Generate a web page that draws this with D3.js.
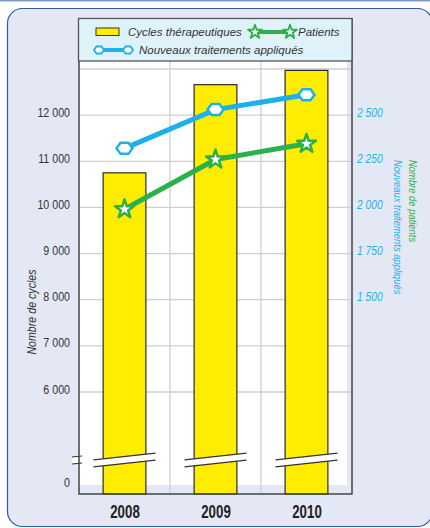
<!DOCTYPE html>
<html>
<head>
<meta charset="utf-8">
<script src="https://cdn.jsdelivr.net/npm/d3@7"></script>
<style>
  body { margin: 0; background: #fff; }
  svg text { font-family: "Liberation Sans Narrow", "Arial Narrow", "Liberation Sans", sans-serif; }
</style>
</head>
<body>
<div id="chart"></div>
<script>
// chart values
const years = ["2008", "2009", "2010"];
const cycles = [10750, 12660, 12970];
const patients = [1990, 2260, 2345];
const nouveaux = [2320, 2530, 2610];
const leftTicks = [0, 6000, 7000, 8000, 9000, 10000, 11000, 12000];
const rightTicks = [1500, 1750, 2000, 2250, 2500];

const width = 430, height = 528;
const blue = "#1cb1ea", green = "#2bb04a", yellow = "#ffed00";
const narrow = 0.82; // the print uses a condensed face

const fr = d3.formatLocale({decimal: ",", thousands: " ", grouping: [3], currency: ["", "€"]});
const fmt = fr.format(",d");

const svg = d3.select("#chart").append("svg")
    .attr("width", width)
    .attr("height", height);

// top rule + rounded panel
svg.append("rect").attr("x", 0).attr("y", 0).attr("width", width).attr("height", 1.5).attr("fill", "#7f9cc6");
svg.append("rect")
    .attr("x", 7.5).attr("y", 8.5)
    .attr("width", 425).attr("height", 518)
    .attr("rx", 15)
    .attr("fill", "#e4e8f4")
    .attr("stroke", "#2f5a9e")
    .attr("stroke-width", 1.2);

// plot frame
const plotL = 79, plotR = 352, axisY = 494, plotT = 61;

const x = d3.scaleBand().domain(years).range([plotL, plotR]).padding(0);
const barW = x.bandwidth() * 0.47;
const cx = d => x(d) + x.bandwidth() / 2;

// broken axis: 0 sits just above the frame, 6000..13000 linear
const yL = d3.scaleLinear().domain([0, 6000, 13000]).range([485, 392, 69]);
const yR = d3.scaleLinear().domain([1500, 2500]).range([yL(8000), yL(12000)]);

// white plotting area (inset a bit from right and bottom)
svg.append("rect")
    .attr("x", plotL).attr("y", plotT)
    .attr("width", 347 - plotL).attr("height", 485 - plotT)
    .attr("fill", "#fff");

// horizontal grid
const gridVals = d3.range(6000, 13001, 1000);
svg.append("g").selectAll("line")
    .data(gridVals)
    .join("line")
    .attr("x1", plotL).attr("x2", plotR)
    .attr("y1", d => yL(d)).attr("y2", d => yL(d))
    .attr("stroke", "#cfcfd4").attr("stroke-width", 1.3);

// vertical grid between years
svg.append("g").selectAll("line")
    .data(years.slice(1))
    .join("line")
    .attr("x1", d => x(d)).attr("x2", d => x(d))
    .attr("y1", plotT).attr("y2", axisY)
    .attr("stroke", "#cfcfd4").attr("stroke-width", 1.3);

// bars
svg.append("g").selectAll("rect")
    .data(years)
    .join("rect")
    .attr("x", d => cx(d) - barW / 2)
    .attr("y", (d, i) => yL(cycles[i]))
    .attr("width", barW)
    .attr("height", (d, i) => axisY - yL(cycles[i]))
    .attr("fill", yellow)
    .attr("stroke", "#2b2b2b")
    .attr("stroke-width", 1.2);

// break marks across each bar and the left axis
const brk = svg.append("g");
function breakMark(xc, half) {
  const yc = 460, dy = half * 0.108, gap = 3.5;
  brk.append("path")
      .attr("d", `M${xc - half},${yc + dy - gap}L${xc + half},${yc - dy - gap}L${xc + half},${yc - dy + gap}L${xc - half},${yc + dy + gap}Z`)
      .attr("fill", "#fff");
  [-gap, gap].forEach(g => {
    brk.append("line")
        .attr("x1", xc - half).attr("y1", yc + dy + g)
        .attr("x2", xc + half).attr("y2", yc - dy + g)
        .attr("stroke", "#333").attr("stroke-width", 1.1);
  });
}
years.forEach(d => breakMark(cx(d), 31));

// frame lines
const frame = svg.append("g").attr("stroke", "#444").attr("stroke-width", 1.5).attr("fill", "none");
frame.append("path").attr("d", `M${plotL},${plotT}V${axisY}H${plotR}V18`);
breakMark(plotL - 2, 5);

// left tick labels
svg.append("g").selectAll("text")
    .data(leftTicks)
    .join("text")
    .attr("transform", d => `translate(70,${yL(d) + 1.5}) scale(${narrow},1)`)
    .attr("text-anchor", "end")
    .attr("font-size", 13)
    .attr("fill", "#333")
    .text(d => fmt(d));

// right tick labels
svg.append("g").selectAll("text")
    .data(rightTicks)
    .join("text")
    .attr("transform", d => `translate(357,${yR(d) + 1.5}) scale(${narrow},1)`)
    .attr("font-size", 12.5)
    .attr("font-style", "italic")
    .attr("fill", blue)
    .text(d => fmt(d));

// year labels
svg.append("g").selectAll("text")
    .data(years)
    .join("text")
    .attr("transform", d => `translate(${cx(d) + 0.5},518) scale(0.7,1)`)
    .attr("text-anchor", "middle")
    .attr("font-size", 19)
    .attr("font-weight", "bold")
    .attr("fill", "#222")
    .text(d => d);

// axis titles
svg.append("text")
    .attr("transform", `translate(36,312) rotate(-90) scale(${narrow},1)`)
    .attr("text-anchor", "middle")
    .attr("font-size", 13)
    .attr("font-style", "italic")
    .attr("fill", "#333")
    .text("Nombre de cycles");
svg.append("text")
    .attr("transform", `translate(409,160) rotate(90) scale(${narrow},1)`)
    .attr("font-size", 11.5)
    .attr("font-style", "italic")
    .attr("fill", green)
    .text("Nombre de patients");
svg.append("text")
    .attr("transform", `translate(394,160) rotate(90) scale(${narrow},1)`)
    .attr("font-size", 11.5)
    .attr("font-style", "italic")
    .attr("fill", blue)
    .text("Nouveaux traitements appliqués");

// marker shapes
function hexPath(w, h) {
  const a = w / 2, b = h / 2, c = w / 4;
  return `M${-a},0L${-c},${-b}L${c},${-b}L${a},0L${c},${b}L${-c},${b}Z`;
}
const star = s => d3.symbol(d3.symbolStar, s)();

// lines
const line = d3.line().x(d => d[0]).y(d => d[1]);
const nouvPts = years.map((d, i) => [cx(d), yR(nouveaux[i])]);
const patPts = years.map((d, i) => [cx(d), yR(patients[i])]);

svg.append("path").attr("d", line(nouvPts))
    .attr("fill", "none").attr("stroke", blue).attr("stroke-width", 5);
svg.append("g").selectAll("path")
    .data(nouvPts)
    .join("path")
    .attr("transform", d => `translate(${d[0]},${d[1]})`)
    .attr("d", hexPath(16, 11))
    .attr("fill", "#fff").attr("stroke", blue).attr("stroke-width", 2.5);

svg.append("path").attr("d", line(patPts))
    .attr("fill", "none").attr("stroke", green).attr("stroke-width", 5);
svg.append("g").selectAll("path")
    .data(patPts)
    .join("path")
    .attr("transform", d => `translate(${d[0]},${d[1]})`)
    .attr("d", star(110))
    .attr("fill", "#fff").attr("stroke", green).attr("stroke-width", 2.5)
    .attr("stroke-linejoin", "round");

// legend
const lg = svg.append("g");
lg.append("rect")
    .attr("x", 78.5).attr("y", 18.5)
    .attr("width", 273.5).attr("height", 42.5)
    .attr("fill", "#dff2fa").attr("stroke", "#555").attr("stroke-width", 1.3);
lg.append("rect")
    .attr("x", 96).attr("y", 28).attr("width", 23).attr("height", 7.5)
    .attr("fill", yellow).attr("stroke", "#333").attr("stroke-width", 1);
const legText = (tx, ty, t) => lg.append("text")
    .attr("x", tx).attr("y", ty)
    .attr("font-family", "'Liberation Sans', Arial, sans-serif")
    .attr("font-size", 11.5).attr("font-style", "italic").attr("fill", "#333")
    .text(t);
legText(128, 36, "Cycles thérapeutiques");
lg.append("line").attr("x1", 255).attr("x2", 290).attr("y1", 32).attr("y2", 32)
    .attr("stroke", green).attr("stroke-width", 4);
[255, 290].forEach(px => lg.append("path")
    .attr("transform", `translate(${px},32)`)
    .attr("d", star(60))
    .attr("fill", "#fff").attr("stroke", green).attr("stroke-width", 1.8)
    .attr("stroke-linejoin", "round"));
legText(298, 36, "Patients");
lg.append("line").attr("x1", 99).attr("x2", 128).attr("y1", 50).attr("y2", 50)
    .attr("stroke", blue).attr("stroke-width", 4);
[99, 128].forEach(px => lg.append("path")
    .attr("transform", `translate(${px},50)`)
    .attr("d", hexPath(10, 7))
    .attr("fill", "#fff").attr("stroke", blue).attr("stroke-width", 1.8));
legText(139, 54, "Nouveaux traitements appliqués");
</script>
</body>
</html>
